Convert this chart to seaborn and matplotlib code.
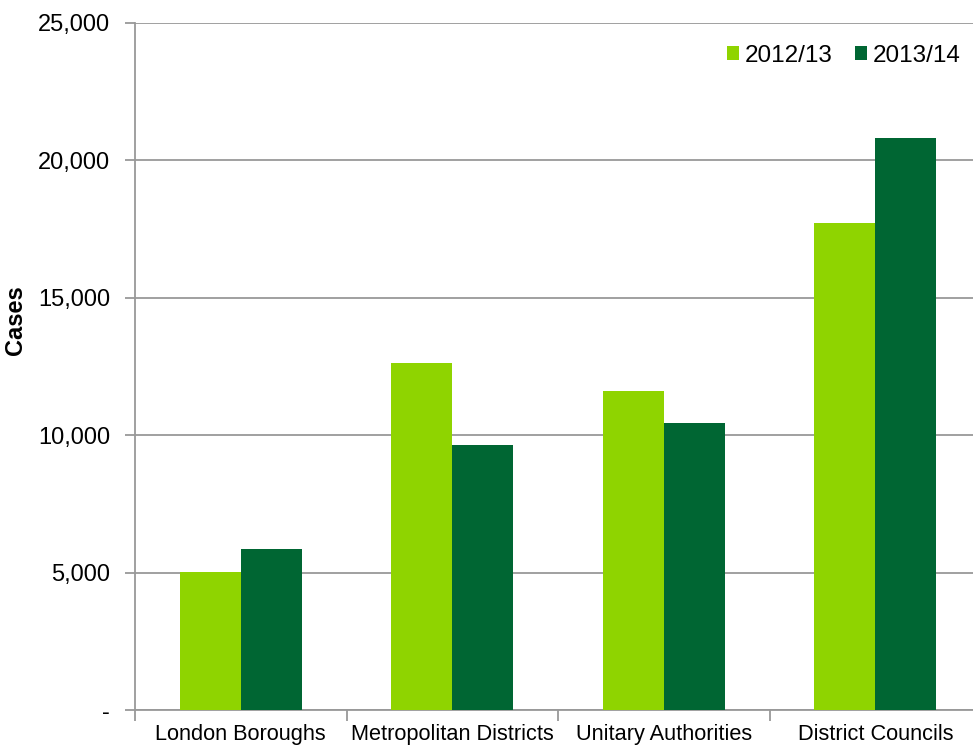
import pandas as pd
import seaborn as sns
import matplotlib.pyplot as plt
from matplotlib.ticker import FuncFormatter

# ---------------------- Data ------------------------
categories = ["London Boroughs", "Metropolitan Districts", "Unitary Authorities", "District Councils"]
cases_2012 = [5030, 12630, 11610, 17720]
cases_2013 = [5860, 9640, 10440, 20820]
years = ["2012/13", "2013/14"]

df = pd.DataFrame({
    "Category": categories * 2,
    "Year": [years[0]] * 4 + [years[1]] * 4,
    "Cases": cases_2012 + cases_2013,
})

# ---------------------- Style ------------------------
sns.set_style("white")
plt.rcParams["font.family"] = ["Liberation Sans", "DejaVu Sans"]
plt.rcParams["text.color"] = "black"
plt.rcParams["axes.labelcolor"] = "black"
plt.rcParams["xtick.labelcolor"] = "black"
plt.rcParams["ytick.labelcolor"] = "black"

fig = plt.figure(figsize=(9.73, 7.46), dpi=100)
ax = fig.add_axes([135 / 973, 36 / 746, 846 / 973, 687 / 746])

sns.barplot(data=df, x="Category", y="Cases", hue="Year",
            palette=["#8FD400", "#006633"], width=0.577,
            saturation=1, ax=ax, zorder=3, linewidth=0)

ax.set_xlim(-0.5, 3.5)
ax.set_ylim(0, 25000)
ax.set_yticks(range(0, 25001, 5000))
ax.yaxis.set_major_formatter(FuncFormatter(lambda v, p: "-" if v == 0 else f"{int(v):,}"))
ax.grid(axis="y", color="#999999", linewidth=1.3, zorder=0)
ax.set_axisbelow(True)

# category boundary ticks on x, as in the original
ax.set_xticks([i for i in range(4)])
ax.set_xticklabels(categories, fontsize=15.7)
ax.tick_params(axis="x", length=0, pad=10)
ax.set_xticks([i - 0.5 for i in range(5)], minor=True)
ax.tick_params(axis="x", which="minor", length=8, width=1.3, color="#999999", direction="out")
ax.tick_params(axis="y", labelsize=17, length=7, width=1.3, color="#999999", direction="out", pad=11)
ax.yaxis.set_ticks_position("left")
ax.xaxis.set_ticks_position("bottom")

for s in ["top", "right"]:
    ax.spines[s].set_visible(False)
for s in ["left", "bottom"]:
    ax.spines[s].set_color("#999999")
    ax.spines[s].set_linewidth(1.3)

ax.set_xlabel("")
ax.set_ylabel("Cases", fontsize=17, fontweight="bold", color="black")
ax.yaxis.set_label_coords(-0.1277, 0.568)

ax.legend(loc="upper right", bbox_to_anchor=(0.976, 0.968), ncol=2, frameon=False,
          fontsize=17.5, handlelength=0.5, handleheight=0.5, handletextpad=0.25,
          columnspacing=0.9, borderaxespad=0, borderpad=0)

fig.savefig("out.png", dpi=100)
